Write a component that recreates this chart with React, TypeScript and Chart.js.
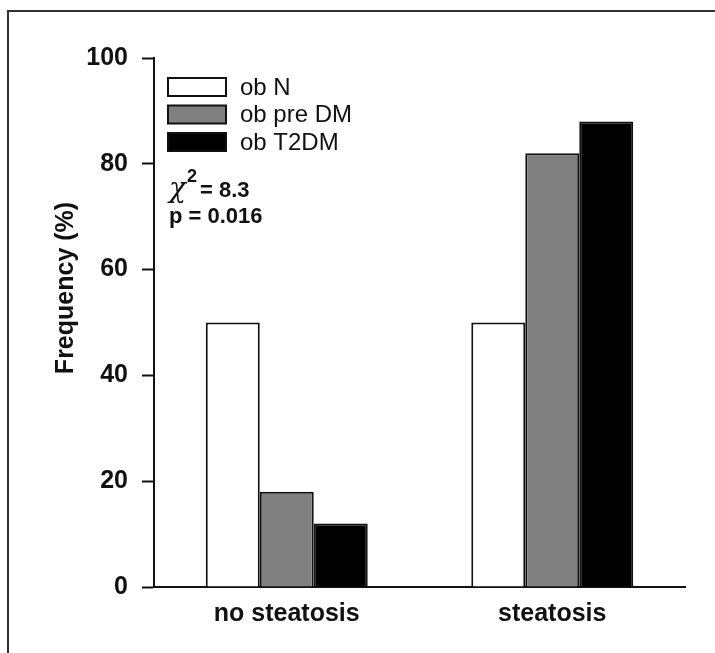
import React, { useEffect, useRef } from "react";
import { Chart, registerables } from "chart.js";

Chart.register(...registerables);

const categories = ["no steatosis", "steatosis"];
const seriesNames = ["ob N", "ob pre DM", "ob T2DM"];
const obN = [50, 50];
const obPreDM = [18, 82];
const obT2DM = [12, 88];
const seriesColors = ["#ffffff", "#808080", "#000000"];
const yTicks = [0, 20, 40, 60, 80, 100];
const yTitle = "Frequency (%)";
const statLines = ["8.3", "p = 0.016"];

const overlayPlugin = {
  id: "overlay",
  afterDraw(chart: any) {
    const ctx = chart.ctx;
    ctx.save();
    // legend
    chart.data.datasets.forEach((ds: any, i: number) => {
      const bx = 168;
      const by = 78 + i * 27.5;
      ctx.fillStyle = ds.backgroundColor;
      ctx.fillRect(bx, by, 58, 18);
      ctx.lineWidth = 2;
      ctx.strokeStyle = "#111";
      ctx.strokeRect(bx, by, 58, 18);
      ctx.fillStyle = "#111";
      ctx.font = "24px 'Liberation Sans', Arial, sans-serif";
      ctx.textAlign = "left";
      ctx.textBaseline = "middle";
      ctx.fillText(ds.label, 240, by + 10);
    });
    // statistics
    ctx.textBaseline = "alphabetic";
    ctx.fillStyle = "#111";
    ctx.font = "italic 28px 'DejaVu Serif', serif";
    ctx.fillText("\u03C7", 169, 197);
    let x = 169 + ctx.measureText("\u03C7").width + 1;
    ctx.font = "bold 18px 'Liberation Sans', Arial, sans-serif";
    ctx.fillText("2", x, 182);
    x += ctx.measureText("2").width + 3;
    ctx.font = "bold 22px 'Liberation Sans', Arial, sans-serif";
    ctx.fillText("= " + statLines[0], x, 197);
    ctx.fillText(statLines[1], 169, 223);
    // y title
    ctx.translate(73, 288);
    ctx.rotate(-Math.PI / 2);
    ctx.textAlign = "center";
    ctx.font = "bold 25px 'Liberation Sans', Arial, sans-serif";
    ctx.fillText(yTitle, 0, 0);
    ctx.restore();
  },
};

export default function App() {
  const ref = useRef<HTMLCanvasElement>(null);
  useEffect(() => {
    if (!ref.current) return;
    const chart = new Chart(ref.current, {
      type: "bar",
      data: {
        labels: categories,
        datasets: [obN, obPreDM, obT2DM].map((d, i) => ({
          label: seriesNames[i],
          data: d,
          backgroundColor: seriesColors[i],
          borderColor: "#111",
          borderWidth: 2,
          categoryPercentage: 0.61,
          barPercentage: 1,
        })),
      },
      options: {
        responsive: false,
        animation: false,
        layout: { padding: { top: 58, right: 30, left: 0, bottom: 0 } },
        plugins: { legend: { display: false }, tooltip: { enabled: false } },
        scales: {
          x: {
            afterFit: (s: any) => {
              s.height = 66;
            },
            grid: { display: false, drawTicks: false },
            border: { display: true, color: "#111", width: 2 },
            ticks: {
              color: "#111",
              padding: 12,
              font: { family: "'Liberation Sans', Arial, sans-serif", size: 25, weight: "bold" },
            },
          },
          y: {
            min: 0,
            max: 100,
            afterFit: (s: any) => {
              s.width = 154;
            },
            afterBuildTicks: (s: any) => {
              s.ticks = yTicks.map((v) => ({ value: v }));
            },
            grid: {
              drawOnChartArea: false,
              drawTicks: true,
              tickLength: 12,
              tickWidth: 2,
              tickColor: "#111",
            },
            border: { display: true, color: "#111", width: 2 },
            ticks: {
              color: "#111",
              padding: 14,
              font: { family: "'Liberation Sans', Arial, sans-serif", size: 25, weight: "bold" },
            },
          },
        },
      },
      plugins: [overlayPlugin],
    });
    return () => chart.destroy();
  }, []);
  return (
    <div style={{ position: "fixed", left: 0, top: 0, width: 715, height: 653, background: "#fff" }}>
      <canvas ref={ref} width={715} height={653} style={{ position: "absolute", left: 0, top: 0, width: 715, height: 653 }} />
      <div style={{ position: "absolute", left: 7, top: 10, width: 708, height: 2, background: "#333" }} />
      <div style={{ position: "absolute", left: 7, top: 10, width: 2, height: 643, background: "#333" }} />
    </div>
  );
}
